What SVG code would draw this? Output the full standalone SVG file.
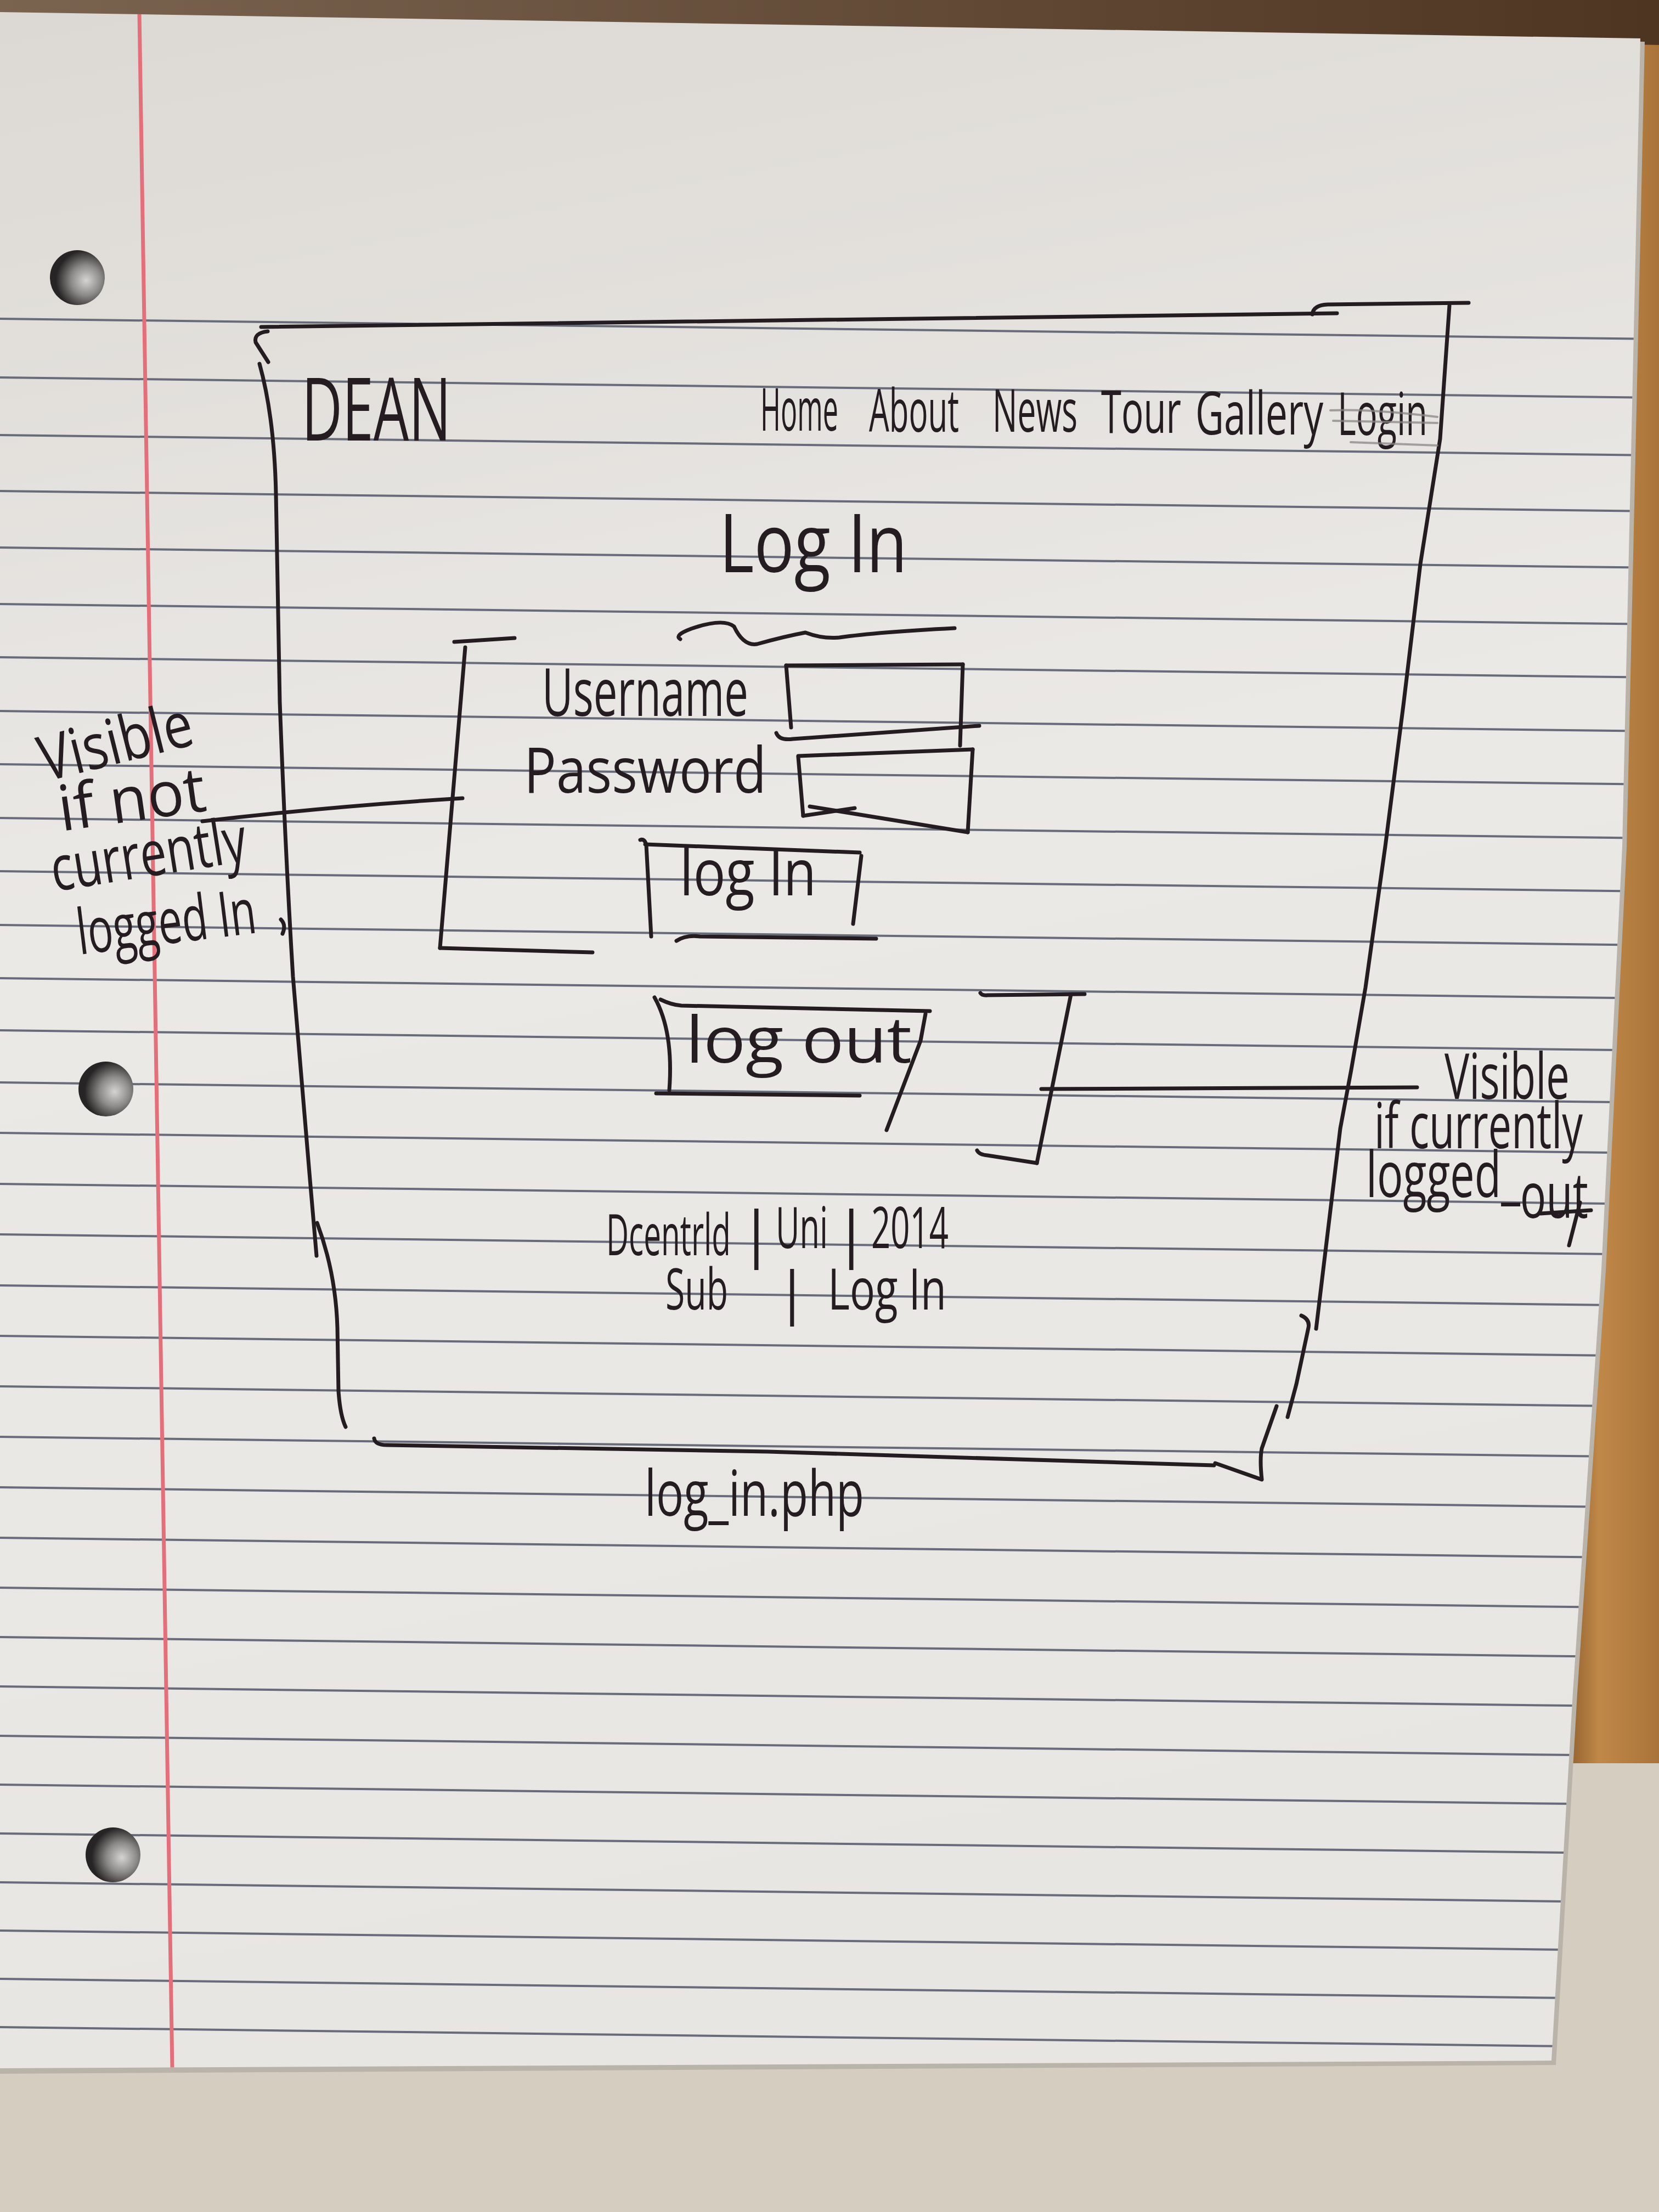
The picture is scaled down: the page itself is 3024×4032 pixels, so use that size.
<svg xmlns="http://www.w3.org/2000/svg" width="3024" height="4032" viewBox="0 0 3024 4032">
  <defs>
    <linearGradient id="paperFill" x1="0" y1="0" x2="0.15" y2="1">
      <stop offset="0" stop-color="#dcd9d4"/>
      <stop offset="0.45" stop-color="#ebe9e6"/>
      <stop offset="1" stop-color="#e7e6e3"/>
    </linearGradient>
    <linearGradient id="woodFill" x1="0" y1="0" x2="1" y2="0">
      <stop offset="0" stop-color="#8d5e2e"/>
      <stop offset="0.35" stop-color="#c08848"/>
      <stop offset="1" stop-color="#a9743a"/>
    </linearGradient>
    <linearGradient id="topBand" x1="0" y1="0" x2="1" y2="0">
      <stop offset="0" stop-color="#7a6450"/>
      <stop offset="1" stop-color="#4e3522"/>
    </linearGradient>
    <radialGradient id="holeFill" cx="0.66" cy="0.55" r="0.55">
      <stop offset="0" stop-color="#d6d4d1"/>
      <stop offset="0.5" stop-color="#8c8a88"/>
      <stop offset="1" stop-color="#262424"/>
    </radialGradient>
    <clipPath id="paperClip">
      <polygon points="0,22 2990,70 2957,1543 2919,2314 2867,3085 2828,3756 0,3770"/>
    </clipPath>
    <style>
      .ink { fill: none; stroke: #241c21; stroke-width: 7; stroke-linecap: round; stroke-linejoin: round; }
      .faint { fill: none; stroke: #8b8585; stroke-width: 4; stroke-linecap: round; opacity: 0.75; }
      .rule { fill: none; stroke: #676b7a; stroke-width: 4; }
      .margin { fill: none; stroke: #e46f7b; stroke-width: 7; }
      .hand { font-family: 'Open Sans', Lato, 'DejaVu Sans', sans-serif; font-weight: 400; fill: #241c21; }
    </style>
  </defs>

  <!-- table surface, shelf wood and notebook sheet -->
  <rect x="0" y="0" width="3024" height="4032" fill="#d4cdc0"/>
  <polygon points="2975,0 3024,0 3024,3214 2855,3214 2900,2314 2940,1543" fill="url(#woodFill)"/>
  <polygon points="0,0 3024,0 3024,82 0,30" fill="url(#topBand)"/>
  <polygon points="0,30 2998,76 2965,1545 2927,2316 2875,3087 2836,3764 0,3780" fill="#b9b3aa"/>
  <polygon points="0,22 2990,70 2957,1543 2919,2314 2867,3085 2828,3756 0,3770" fill="url(#paperFill)"/>

  <!-- ruled lines and margin -->
  <g clip-path="url(#paperClip)">
    <path class="rule" d="M0 581 L3024 618 M0 688 L3024 725 M0 793 L3024 830 M0 895 L3024 932 M0 998 L3024 1035 M0 1101 L3024 1138 M0 1198 L3024 1235 M0 1296 L3024 1333 M0 1393 L3024 1430 M0 1491 L3024 1528 M0 1588 L3024 1625 M0 1686 L3024 1723 M0 1783 L3024 1820 M0 1878 L3024 1915 M0 1973 L3024 2010 M0 2065 L3024 2102 M0 2158 L3024 2195 M0 2250 L3024 2287 M0 2343 L3024 2380 M0 2435 L3024 2472 M0 2527 L3024 2564 M0 2619 L3024 2656 M0 2711 L3024 2748 M0 2803 L3024 2840 M0 2894 L3024 2931 M0 2984 L3024 3021 M0 3074 L3024 3111 M0 3164 L3024 3201 M0 3253 L3024 3290 M0 3342 L3024 3379 M0 3431 L3024 3468 M0 3519 L3024 3556 M0 3607 L3024 3644 M0 3695 L3024 3732"/>
    <path class="margin" d="M254 24 L314 3770"/>
  </g>

  <!-- punched holes -->
  <g id="holes">
    <circle cx="141" cy="506" r="50" fill="url(#holeFill)"/>
    <circle cx="193" cy="1985" r="50" fill="url(#holeFill)"/>
    <circle cx="206" cy="3381" r="50" fill="url(#holeFill)"/>
  </g>

  <!-- page frame -->
  <g id="page-frame">
    <path class="ink" d="M476 596 L2437 571"/>
    <path class="ink" d="M2392 573 Q2394 556 2420 555 L2677 552"/>
    <path class="ink" d="M488 604 Q462 607 466 624 L489 660"/>
    <path class="ink" d="M473 663 Q500 760 503 900 L510 1280 Q520 1550 534 1780 L565 2150 L577 2289"/>
    <path class="ink" d="M512 1676 Q522 1686 515 1702"/>
    <path class="ink" d="M578 2229 Q612 2320 615 2420 L617 2536 Q620 2580 630 2601"/>
    <path class="ink" d="M682 2622 Q684 2634 705 2634 L1400 2646 L2213 2671"/>
    <path class="ink" d="M2215 2667 L2300 2697 Q2296 2660 2300 2640 L2327 2563"/>
    <path class="ink" d="M2347 2583 L2363 2523 L2385 2420 Q2388 2405 2372 2398"/>
    <path class="ink" d="M2642 557 L2625 800 L2589 1028 L2558 1286 L2525 1543 L2489 1800 L2463 1950 L2443 2057 L2412 2314 L2399 2422"/>
  </g>

  <!-- header: logo and navigation -->
  <g id="header">
    <text class="hand" x="550" y="803" font-size="160" textLength="272" lengthAdjust="spacingAndGlyphs">DEAN</text>
    <g font-size="108">
      <text class="hand" x="1386" y="785" textLength="142" lengthAdjust="spacingAndGlyphs">Home</text>
      <text class="hand" x="1584" y="787" textLength="164" lengthAdjust="spacingAndGlyphs">About</text>
      <text class="hand" x="1809" y="787" textLength="155" lengthAdjust="spacingAndGlyphs">News</text>
      <text class="hand" x="2007" y="789" textLength="146" lengthAdjust="spacingAndGlyphs">Tour</text>
      <text class="hand" x="2179" y="792" textLength="233" lengthAdjust="spacingAndGlyphs">Gallery</text>
      <text class="hand" x="2438" y="793" textLength="164" lengthAdjust="spacingAndGlyphs">Login</text>
    </g>
    <path class="faint" d="M2425 748 Q2500 745 2620 760 M2430 767 L2620 771 M2462 806 L2620 812"/>
  </g>

  <!-- page title -->
  <g id="title">
    <text class="hand" x="1311" y="1043" font-size="148" textLength="343" lengthAdjust="spacingAndGlyphs">Log In</text>
    <path class="ink" d="M1240 1165 Q1228 1158 1260 1146 Q1318 1126 1338 1142 Q1355 1178 1380 1174 Q1430 1160 1468 1153 Q1500 1165 1530 1162 Q1600 1152 1740 1145"/>
  </g>

  <!-- login form, shown when logged out -->
  <g id="login-form">
    <path class="ink" d="M828 1170 L938 1163"/>
    <path class="ink" d="M848 1180 L802 1728"/>
    <path class="ink" d="M802 1728 L1080 1736"/>
    <text class="hand" x="988" y="1305" font-size="120" textLength="376" lengthAdjust="spacingAndGlyphs">Username</text>
    <path class="ink" d="M1433 1213 L1755 1211"/>
    <path class="ink" d="M1433 1213 L1442 1326"/>
    <path class="ink" d="M1755 1211 L1750 1359"/>
    <path class="ink" d="M1415 1336 Q1420 1350 1445 1347 L1785 1323"/>
    <text class="hand" x="955" y="1445" font-size="115" textLength="442" lengthAdjust="spacingAndGlyphs">Password</text>
    <path class="ink" d="M1455 1378 L1773 1366"/>
    <path class="ink" d="M1455 1380 L1464 1487"/>
    <path class="ink" d="M1773 1366 L1764 1517"/>
    <path class="ink" d="M1476 1470 L1764 1517"/>
    <path class="ink" d="M1464 1487 L1558 1473"/>
    <path class="ink" d="M1167 1531 Q1175 1528 1178 1540 L1187 1707"/>
    <path class="ink" d="M1176 1539 L1567 1554"/>
    <path class="ink" d="M1570 1560 L1555 1684"/>
    <path class="ink" d="M1233 1715 Q1250 1704 1276 1707 L1597 1711"/>
    <text class="hand" x="1239" y="1632" font-size="118" textLength="249" lengthAdjust="spacingAndGlyphs">log In</text>
  </g>

  <!-- logout button, shown when logged in -->
  <g id="logout-group">
    <path class="ink" d="M1193 1818 Q1228 1880 1220 1987"/>
    <path class="ink" d="M1204 1822 Q1225 1832 1242 1833 L1695 1843"/>
    <path class="ink" d="M1196 1993 L1567 1997"/>
    <path class="ink" d="M1687 1848 L1678 1897 L1616 2060"/>
    <text class="hand" x="1250" y="1937" font-size="118" textLength="412" lengthAdjust="spacingAndGlyphs">log out</text>
    <path class="ink" d="M1787 1810 Q1790 1815 1800 1814 L1977 1812"/>
    <path class="ink" d="M1952 1813 L1890 2120"/>
    <path class="ink" d="M1781 2097 Q1785 2105 1800 2106 L1890 2120"/>
  </g>

  <!-- footer -->
  <g id="footer">
    <text class="hand" y="2288" font-size="105">
      <tspan x="1105" textLength="227" lengthAdjust="spacingAndGlyphs">Dcentrld</tspan>
      <tspan x="1348" font-size="112">|</tspan>
      <tspan x="1414" y="2275" textLength="95" lengthAdjust="spacingAndGlyphs">Uni</tspan>
      <tspan x="1521" y="2288" font-size="112">|</tspan>
      <tspan x="1588" y="2275" textLength="141" lengthAdjust="spacingAndGlyphs">2014</tspan>
    </text>
    <text class="hand" y="2387" font-size="105">
      <tspan x="1213" textLength="114" lengthAdjust="spacingAndGlyphs">Sub</tspan>
      <tspan x="1415" y="2393">|</tspan>
      <tspan x="1509" y="2387" textLength="216" lengthAdjust="spacingAndGlyphs">Log In</tspan>
    </text>
  </g>

  <!-- file name -->
  <g id="filename">
    <text class="hand" x="1175" y="2763" font-size="115" textLength="400" lengthAdjust="spacingAndGlyphs">log_in.php</text>
  </g>

  <!-- side notes -->
  <g id="note-left" font-size="115">
    <text class="hand" x="82" y="1425" textLength="285" lengthAdjust="spacingAndGlyphs" transform="rotate(-14 82 1425)">Visible</text>
    <text class="hand" x="112" y="1515" textLength="270" lengthAdjust="spacingAndGlyphs" transform="rotate(-8 112 1515)">if not</text>
    <text class="hand" x="99" y="1625" textLength="360" lengthAdjust="spacingAndGlyphs" transform="rotate(-9 99 1625)">currently</text>
    <text class="hand" x="145" y="1740" textLength="328" lengthAdjust="spacingAndGlyphs" transform="rotate(-7 145 1740)">logged In</text>
  </g>
  <g id="note-right" font-size="115">
    <text class="hand" x="2633" y="2003" textLength="228" lengthAdjust="spacingAndGlyphs">Visible</text>
    <text class="hand" x="2505" y="2093" textLength="380" lengthAdjust="spacingAndGlyphs">if currently</text>
    <text class="hand" x="2490" y="2182" textLength="405" lengthAdjust="spacingAndGlyphs">logged_<tspan dy="38">out</tspan></text>
    <path class="ink" d="M2808 2212 L2900 2206 M2880 2192 L2860 2270"/>
  </g>

  <!-- connectors from notes to the blocks they describe -->
  <g id="connectors">
    <path class="ink" d="M369 1497 Q600 1470 843 1455"/>
    <path class="ink" d="M1898 1985 L2583 1982"/>
  </g>
</svg>
